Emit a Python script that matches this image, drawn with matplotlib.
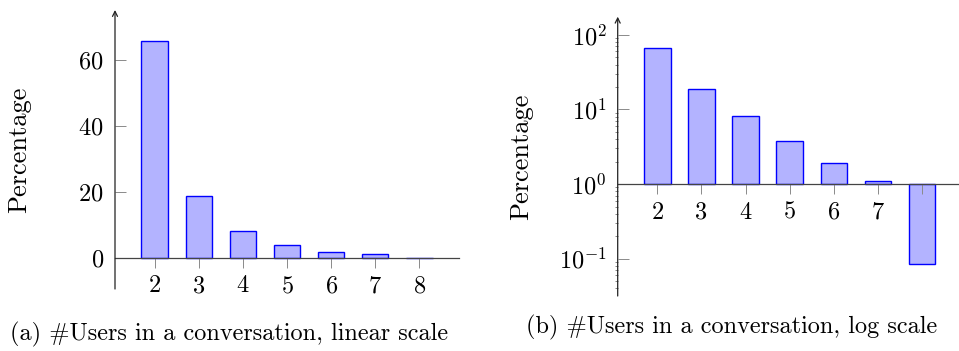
import numpy as np
import matplotlib.pyplot as plt
from matplotlib.ticker import FixedLocator, LogLocator, NullFormatter

plt.rcParams['font.family'] = 'cmr10'
plt.rcParams['mathtext.fontset'] = 'cm'
plt.rcParams['axes.formatter.use_mathtext'] = True

users = [2, 3, 4, 5, 6, 7, 8]
percentage = [65.8, 18.8, 8.1, 3.8, 1.9, 1.1, 0.084]
lin_ticks = [0, 20, 40, 60]
log_ticks = [0.1, 1, 10, 100]

fill = (0.7, 0.7, 1.0)
edge = (0.0, 0.0, 1.0)
tick_gray = '#8a8a8a'
fs = 17.5

fig = plt.figure(figsize=(9.59, 3.51), dpi=100)
ax1 = fig.add_axes([115 / 959, 1 - 289 / 351, 344 / 959, 279 / 351])
ax2 = fig.add_axes([617.7 / 959, 1 - 296 / 351, 344 / 959, 279.3 / 351])


def style_axes(ax, base):
    for s in ['top', 'right', 'left']:
        ax.spines[s].set_visible(False)
    ax.spines['bottom'].set_position(('data', base))
    ax.spines['bottom'].set_color('#444444')
    ax.spines['bottom'].set_linewidth(0.9)
    ax.annotate('', xy=(0, 1), xytext=(0, 0), xycoords='axes fraction',
                arrowprops=dict(arrowstyle='->', lw=0.9, color='#222222',
                                shrinkA=0, shrinkB=0, mutation_scale=9))
    ax.set_xlim(1.1, 8.9)
    ax.set_xticks(users)
    ax.tick_params(axis='x', direction='out', length=7.5, width=0.7,
                   color=tick_gray, pad=5, labelsize=fs)
    ax.tick_params(axis='y', which='major', direction='in', length=7.8,
                   width=0.7, color=tick_gray, pad=8, labelsize=fs)
    ax.set_ylabel('Percentage', fontsize=19)
    ax.patch.set_visible(False)


# linear scale
ax1.bar(users, percentage, width=0.6, color=fill, edgecolor=edge,
        linewidth=1.0, zorder=1)
style_axes(ax1, 0)
ax1.set_ylim(-9.4, 75.2)
ax1.yaxis.set_major_locator(FixedLocator(lin_ticks))
ax1.yaxis.set_label_coords(-0.244, 0.5)

# log scale, bars start at 10^0
ax2.set_yscale('log')
ax2.bar(users, np.array(percentage) - 1, bottom=1, width=0.6, color=fill,
        edgecolor=edge, linewidth=1.0, zorder=1)
style_axes(ax2, 1)
ax2.set_ylim(10 ** -1.5, 10 ** 2.243)
ax2.yaxis.set_major_locator(FixedLocator(log_ticks))
ax2.yaxis.set_minor_locator(LogLocator(base=10, subs=np.arange(2, 10)))
ax2.yaxis.set_minor_formatter(NullFormatter())
ax2.tick_params(axis='y', which='minor', direction='out', length=2,
                width=0.5, color='#555555')
ax2.set_yticklabels(['$10^{-1}$', '$10^{0}$', '$10^{1}$', '$10^{2}$'])
ax2.set_xticklabels([str(u) if u != 8 else '' for u in users])
ax2.yaxis.set_label_coords(-0.245, 0.5)

fig.text(229 / 959, 1 - 334 / 351, '(a) #Users in a conversation, linear scale',
         ha='center', va='center', fontsize=fs)
fig.text(732 / 959, 1 - 327 / 351, '(b) #Users in a conversation, log scale',
         ha='center', va='center', fontsize=fs)

fig.savefig('out.png', dpi=100)
